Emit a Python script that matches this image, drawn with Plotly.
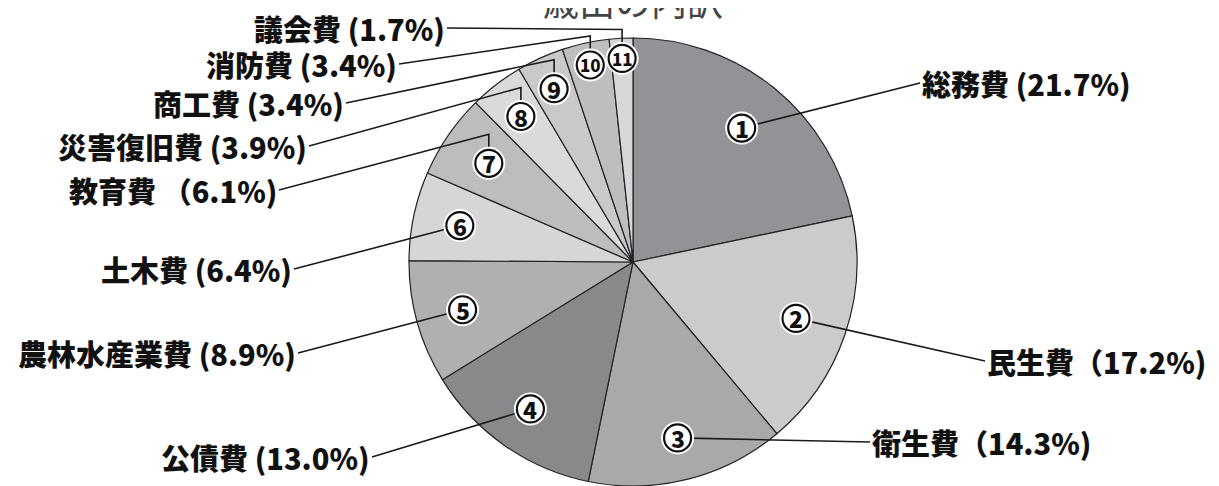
import math
import plotly.graph_objects as go

W, H = 1219, 486
OFF = 8  # default page body margin

# ---- data ----
categories = ["総務費", "民生費", "衛生費", "公債費", "農林水産業費", "土木費",
              "教育費", "災害復旧費", "商工費", "消防費", "議会費"]
shares = [21.7, 17.2, 14.3, 13.0, 8.9, 6.4, 6.1, 3.9, 3.4, 3.4, 1.7]
numbers = ["1", "2", "3", "4", "5", "6", "7", "8", "9", "10", "11"]
label_texts = ["総務費 (21.7%)", "民生費（17.2%)", "衛生費（14.3%)", "公債費 (13.0%)",
               "農林水産業費 (8.9%)", "土木費 (6.4%)", "教育費 （6.1%)", "災害復旧費 (3.9%)",
               "商工費 (3.4%)", "消防費 (3.4%)", "議会費 (1.7%)"]
title_text = "歳出の内訳"

# ---- styles / layout positions (screen pixels) ----
colors = ["#929397", "#cbcbcd", "#a9a9ab", "#88898b", "#b0b0b2", "#d6d6d8",
          "#bdbdbf", "#dadadc", "#c9c9cb", "#bebec0", "#d8d8da"]
radial_frac = [0.77, 0.77, 0.81, 0.80, 0.79, 0.79, 0.78, 0.82, 0.85, 0.90, 0.91]
label_anchor = [(920, 83, "left"), (985, 361, "left"), (870, 442, "left"),
                (372, 457, "right"), (298, 353, "right"), (294, 269, "right"),
                (279, 190, "right"), (309, 146, "right"), (346, 103, "right"),
                (399, 64, "right"), (447, 28, "right")]
elbow = [False, False, False, False, False, False, True, True, True, True, True]

FW, FH = W - OFF, H - OFF
R = 224
cx_scr, cy_scr = 633, OFF + FH - R
dom_y = [0, 2 * R / FH]
cxf = (cx_scr - OFF) / FW
dom_x = [cxf - 0.2, cxf + 0.2]

fig = go.Figure()
fig.add_trace(go.Pie(
    labels=categories, values=shares, sort=False, direction="clockwise", rotation=0,
    marker=dict(colors=colors, line=dict(color="#222222", width=1.2)),
    textinfo="none", hoverinfo="label+percent", showlegend=False,
    domain=dict(x=dom_x, y=dom_y),
))

total = sum(shares)
cum = 0.0
mx, my = [], []
for i, v in enumerate(shares):
    mid = (cum + v / 2) / total * 2 * math.pi
    cum += v
    r = R * radial_frac[i]
    mx.append(cx_scr + r * math.sin(mid))
    my.append(cy_scr - r * math.cos(mid))

shapes = []
# leader lines
for i in range(len(shares)):
    ax, ay, side = label_anchor[i]
    if elbow[i]:
        path = f"M{mx[i]},{my[i]} L{mx[i]},{my[i] - 29} L{ax},{ay}"
    else:
        path = f"M{mx[i]},{my[i]} L{ax},{ay}"
    shapes.append(dict(type="path", path=path, xref="x", yref="y", layer="above",
                       line=dict(color="#1a1a1a", width=1.6)))
# circle halos and rings
RH, RR = 16.5, 13.5
for i in range(len(shares)):
    shapes.append(dict(type="circle", xref="x", yref="y", layer="above",
                       x0=mx[i] - RH, x1=mx[i] + RH, y0=my[i] - RH, y1=my[i] + RH,
                       fillcolor="white", line=dict(width=0)))
    shapes.append(dict(type="circle", xref="x", yref="y", layer="above",
                       x0=mx[i] - RR, x1=mx[i] + RR, y0=my[i] - RR, y1=my[i] + RR,
                       fillcolor="white", line=dict(width=2.2, color="#111111")))

annotations = []
for i in range(len(shares)):
    annotations.append(dict(x=mx[i], y=my[i], xref="x", yref="y", text=numbers[i],
                            showarrow=False, xanchor="center", yanchor="middle",
                            font=dict(family="Noto Sans CJK JP", size=23 if i < 9 else 17,
                                      color="#111111", weight=900)))
for i, t in enumerate(label_texts):
    ax, ay, side = label_anchor[i]
    annotations.append(dict(x=ax, y=ay, xref="x", yref="y", text=t, showarrow=False,
                            xanchor=side, yanchor="middle",
                            font=dict(family="Noto Sans CJK JP", size=29, color="#111111",
                                      weight=900)))
annotations.append(dict(x=cx_scr, y=1, xref="x", yref="paper", text=title_text, showarrow=False,
                        xanchor="center", yanchor="middle", yshift=8,
                        font=dict(family="Noto Sans CJK JP", size=36, color="#444444")))

fig.update_layout(
    width=FW, height=FH, margin=dict(l=0, r=0, t=0, b=0),
    paper_bgcolor="white", plot_bgcolor="rgba(0,0,0,0)",
    xaxis=dict(range=[OFF, W], visible=False, fixedrange=True),
    yaxis=dict(range=[H, OFF], visible=False, fixedrange=True),
    shapes=shapes, annotations=annotations,
)

fig.write_html("out.html")
